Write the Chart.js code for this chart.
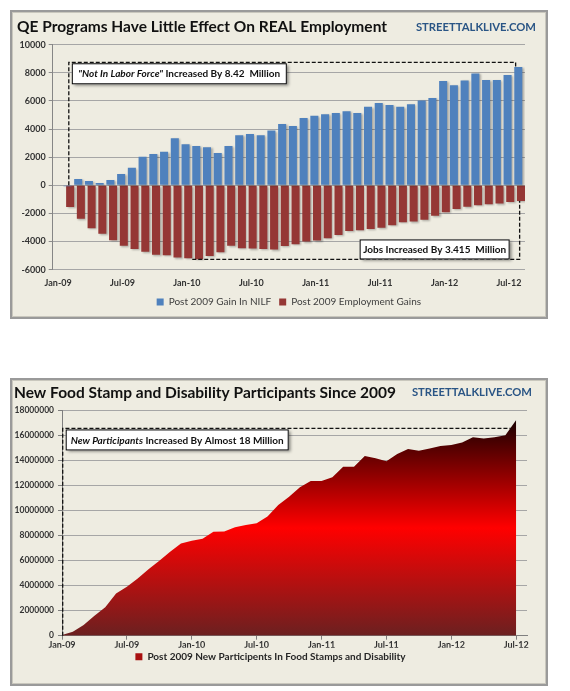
<!DOCTYPE html>
<html>
<head>
<meta charset="utf-8">
<title>QE Programs and Food Stamp Participants</title>
<script src="https://cdn.jsdelivr.net/npm/chart.js@4.4.1/dist/chart.umd.min.js"></script>
<style>
  html, body { margin: 0; padding: 0; background: #ffffff; }
  body { position: relative; width: 570px; height: 691px; overflow: hidden; }
  .frame {
    position: absolute; left: 10px; width: 538px;
    box-sizing: border-box; border: 2px solid #9a9a9a;
    background: #eeece1;
    box-shadow: inset 0 0 0 1px #c9c7bd;
  }
  #frameTop { top: 10px; height: 309px; }
  #frameBottom { top: 378px; height: 308px; }
  .frame canvas { display: block; }
</style>
</head>
<body>
<div class="frame" id="frameTop"><canvas id="qeChart"></canvas></div>
<div class="frame" id="frameBottom"><canvas id="foodChart"></canvas></div>
<script>
Chart.defaults.font.family = "Lato, 'Open Sans', sans-serif";

// ---- data ----
const months = ['Jan-09', 'Feb-09', 'Mar-09', 'Apr-09', 'May-09', 'Jun-09', 'Jul-09', 'Aug-09', 'Sep-09', 'Oct-09', 'Nov-09', 'Dec-09',
                'Jan-10', 'Feb-10', 'Mar-10', 'Apr-10', 'May-10', 'Jun-10', 'Jul-10', 'Aug-10', 'Sep-10', 'Oct-10', 'Nov-10', 'Dec-10',
                'Jan-11', 'Feb-11', 'Mar-11', 'Apr-11', 'May-11', 'Jun-11', 'Jul-11', 'Aug-11', 'Sep-11', 'Oct-11', 'Nov-11', 'Dec-11',
                'Jan-12', 'Feb-12', 'Mar-12', 'Apr-12', 'May-12', 'Jun-12', 'Jul-12'];

// thousands
const nilfGain = [-60, 450, 310, 165, 380, 805, 1255, 2040, 2230, 2390, 3340, 2915,
                  2800, 2700, 2300, 2800, 3555, 3650, 3555, 3890, 4360, 4220, 4790, 4950,
                  5050, 5140, 5260, 5140, 5590, 5850, 5710, 5590, 5760, 6040, 6210, 7420,
                  7110, 7460, 7960, 7490, 7490, 7840, 8420];
const jobGain = [-1540, -2370, -3060, -3440, -3910, -4290, -4530, -4720, -4930, -4980, -5140, -5190,
                 -5260, -5020, -4760, -4290, -4480, -4500, -4530, -4570, -4310, -4190, -4000, -3930,
                 -3770, -3530, -3250, -3200, -3100, -3010, -2840, -2630, -2580, -2440, -2160, -1920,
                 -1680, -1520, -1420, -1350, -1300, -1190, -1110];

const foodDisability = [50000, 320000, 850000, 1600000, 2260000, 3370000, 3900000, 4570000, 5290000, 5980000, 6700000, 7360000,
                        7570000, 7730000, 8290000, 8320000, 8640000, 8830000, 8960000, 9500000, 10420000, 11090000, 11830000, 12340000,
                        12340000, 12630000, 13480000, 13480000, 14330000, 14150000, 13910000, 14490000, 14890000, 14760000, 14920000, 15130000,
                        15210000, 15400000, 15820000, 15720000, 15820000, 15980000, 17200000];

const qeTicks = { min: -6000, max: 10000, step: 2000 };
const foodTicks = { min: 0, max: 18000000, step: 2000000 };
const SITE = 'STREETTALKLIVE.COM';

// ---- small drawing helpers ----
function siteName(ctx, right, midY) {
  ctx.save();
  let size = 13;
  ctx.font = 'bold ' + size + 'px Lato';
  while (ctx.measureText(SITE).width > 122 && size > 8) {
    size -= 0.25;
    ctx.font = 'bold ' + size + 'px Lato';
  }
  ctx.fillStyle = '#2a5585';
  ctx.textAlign = 'right';
  ctx.textBaseline = 'middle';
  ctx.fillText(SITE, right, midY);
  ctx.restore();
}

function noteBox(ctx, x, y, w, h, parts) {
  ctx.save();
  ctx.setLineDash([]);
  ctx.shadowColor = 'rgba(0,0,0,0.45)';
  ctx.shadowBlur = 3;
  ctx.shadowOffsetX = 2;
  ctx.shadowOffsetY = 2;
  ctx.fillStyle = '#ffffff';
  ctx.fillRect(x, y, w, h);
  ctx.shadowColor = 'transparent';
  ctx.strokeStyle = '#000';
  ctx.lineWidth = 1;
  ctx.strokeRect(x + 0.5, y + 0.5, w - 1, h - 1);
  let total = 0;
  parts.forEach(p => { ctx.font = p.font; total += ctx.measureText(p.text).width; });
  let tx = x + (w - total) / 2;
  ctx.fillStyle = '#111';
  ctx.textBaseline = 'middle';
  parts.forEach(p => {
    ctx.font = p.font;
    ctx.fillText(p.text, tx, y + h / 2 + 0.5);
    tx += ctx.measureText(p.text).width;
  });
  ctx.restore();
}

function dashed(ctx, pts) {
  ctx.save();
  ctx.setLineDash([4, 2]);
  ctx.lineWidth = 1.3;
  ctx.strokeStyle = '#111';
  ctx.beginPath();
  pts.forEach((p, i) => i ? ctx.lineTo(p[0], p[1]) : ctx.moveTo(p[0], p[1]));
  ctx.stroke();
  ctx.restore();
}

// soft drop shadow behind the bars, like the Excel original
const barShadow = {
  id: 'barShadow',
  beforeDatasetsDraw(chart) {
    const ctx = chart.ctx;
    ctx.save();
    ctx.shadowColor = 'rgba(0,0,0,0.28)';
    ctx.shadowBlur = 2;
    ctx.shadowOffsetX = 1.5;
    ctx.shadowOffsetY = 1;
  },
  afterDatasetsDraw(chart) {
    chart.ctx.restore();
  }
};

// ==========================================
// CHART 1: NILF vs employment (bars)
// ==========================================
const qeLabels = [''].concat(months);   // empty leading slot like the original date axis

const qeNotes = {
  id: 'qeNotes',
  afterDraw(chart) {
    const { ctx, scales: { x, y } } = chart;
    siteName(ctx, 524, 15);

    const x0 = x.getPixelForValue(1);
    const xEnd = x.getPixelForValue(qeLabels.length - 1);
    const yTop = y.getPixelForValue(8750);
    dashed(ctx, [[x0, y.getPixelForValue(0)], [x0, yTop], [xEnd - 4, yTop], [xEnd - 4, y.getPixelForValue(nilfGain[nilfGain.length - 1])]]);

    const yBot = y.getPixelForValue(-5270);
    dashed(ctx, [[x.getPixelForValue(12.5), yBot], [xEnd, yBot], [xEnd, y.getPixelForValue(jobGain[jobGain.length - 1])]]);

    noteBox(ctx, x0 + 3, yTop + 1, 215, 21, [
      { text: '"Not In Labor Force"', font: 'italic bold 10px Lato' },
      { text: ' Increased By 8.42  Million', font: 'bold 10px Lato' }
    ]);
    noteBox(ctx, xEnd - 160, yBot - 20, 150, 20, [
      { text: 'Jobs Increased By 3.415  Million', font: 'bold 10px Lato' }
    ]);
  }
};

new Chart(document.getElementById('qeChart'), {
  type: 'bar',
  data: {
    labels: qeLabels,
    datasets: [
      {
        label: 'Post 2009 Gain In NILF',
        data: [null].concat(nilfGain),
        backgroundColor: '#4f81bd',
        categoryPercentage: 0.5,
        barPercentage: 3
      },
      {
        label: 'Post 2009 Employment Gains',
        data: [null].concat(jobGain),
        backgroundColor: '#953735',
        categoryPercentage: 0.5,
        barPercentage: 3
      }
    ]
  },
  options: {
    responsive: true,
    maintainAspectRatio: false,
    animation: false,
    layout: { padding: { left: 5, right: 21, top: 0, bottom: 0 } },
    plugins: {
      title: {
        display: true,
        text: 'QE Programs Have Little Effect On REAL Employment',
        align: 'start',
        color: '#111',
        font: { size: 15.5, weight: 'bold' },
        padding: { top: 5.7, bottom: 8.4 }
      },
      legend: {
        position: 'bottom',
        fullSize: false,
        labels: { boxWidth: 7, boxHeight: 7, padding: 8, color: '#404040', font: { size: 10 } }
      },
      tooltip: { enabled: false }
    },
    scales: {
      x: {
        grid: { display: false, drawTicks: false },
        border: { display: false },
        ticks: {
          autoSkip: false, maxRotation: 0, labelOffset: -10.7, padding: 8,
          color: '#333', font: { size: 9, weight: 'bold' },
          callback: (v, i) => (i >= 1 && (i - 1) % 6 === 0) ? qeLabels[i] : null
        },
        afterFit: s => { s.height = 19.3; }
      },
      y: {
        min: qeTicks.min,
        max: qeTicks.max,
        ticks: { stepSize: qeTicks.step, padding: 3, color: '#333', font: { size: 9, weight: 'bold' }, callback: v => String(v) },
        grid: { color: '#a6a6a6', tickLength: 4, tickColor: '#8c8c8c' },
        border: { color: '#868686' },
        afterFit: s => { s.width = 35.7; }
      }
    }
  },
  plugins: [barShadow, qeNotes]
});

// ==========================================
// CHART 2: food stamp + disability (area)
// ==========================================
const foodLabels = months.concat(['Aug-12']);   // axis runs one month past the last value

const foodNotes = {
  id: 'foodNotes',
  afterDraw(chart) {
    const { ctx, scales: { x, y } } = chart;
    siteName(ctx, 520, 12.7);
    const x0 = x.getPixelForValue(0) + 0.7;
    const yTop = y.getPixelForValue(16530000);
    dashed(ctx, [[x0, y.getPixelForValue(0)], [x0, yTop], [x.getPixelForValue(41.5), yTop]]);
    noteBox(ctx, x0 + 3, yTop + 1, 223, 21, [
      { text: 'New Participants', font: 'italic bold 10px Lato' },
      { text: ' Increased By Almost 18 Million', font: 'bold 10px Lato' }
    ]);
  }
};

function areaFill(context) {
  const { chart } = context;
  const { ctx, chartArea, scales } = chart;
  if (!chartArea) return '#c00000';
  const top = scales.y.getPixelForValue(Math.max.apply(null, foodDisability));
  const bottom = scales.y.getPixelForValue(0);
  const g = ctx.createLinearGradient(0, top, 0, bottom);
  g.addColorStop(0, '#1a0000');
  g.addColorStop(0.5, '#ff0000');
  g.addColorStop(1, '#6b2020');
  return g;
}

new Chart(document.getElementById('foodChart'), {
  type: 'line',
  data: {
    labels: foodLabels,
    datasets: [{
      label: 'Post 2009 New Participents In Food Stamps and Disability',
      data: foodDisability,
      fill: 'origin',
      backgroundColor: areaFill,
      borderWidth: 0,
      pointRadius: 0,
      tension: 0
    }]
  },
  options: {
    responsive: true,
    maintainAspectRatio: false,
    animation: false,
    layout: { padding: { left: 2, right: 19, top: 0, bottom: 12.3 } },
    plugins: {
      title: {
        display: true,
        text: 'New Food Stamp and Disability Participants Since 2009',
        align: 'start',
        color: '#111',
        font: { size: 15.5, weight: 'bold' },
        padding: { top: 3.4, bottom: 8 }
      },
      legend: {
        position: 'bottom',
        labels: {
          boxWidth: 7, boxHeight: 7, padding: 4, color: '#262626', font: { size: 10, weight: 'bold' },
          generateLabels: chart => Chart.defaults.plugins.legend.labels.generateLabels(chart)
            .map(item => Object.assign(item, { fillStyle: '#a81010' }))
        }
      },
      tooltip: { enabled: false }
    },
    scales: {
      x: {
        offset: false,
        grid: { drawOnChartArea: false, tickLength: 4, color: '#7f7f7f' },
        border: { color: '#7f7f7f' },
        ticks: {
          autoSkip: false, maxRotation: 0, padding: 0,
          color: '#333', font: { size: 9, weight: 'bold' },
          callback: (v, i) => (i % 6 === 0) ? foodLabels[i] : null
        },
        afterFit: s => { s.height = 12; }
      },
      y: {
        min: foodTicks.min,
        max: foodTicks.max,
        ticks: { stepSize: foodTicks.step, padding: 4, color: '#333', font: { size: 8.5, weight: 'bold' }, callback: v => String(v) },
        grid: { color: '#a6a6a6', tickLength: 4, tickColor: '#7f7f7f' },
        border: { color: '#7f7f7f' },
        afterFit: s => { s.width = 48; }
      }
    }
  },
  plugins: [foodNotes]
});
</script>
</body>
</html>
